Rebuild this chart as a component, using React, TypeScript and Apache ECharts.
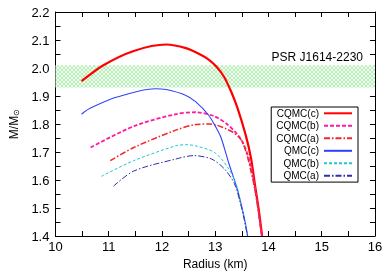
import React, { useEffect, useRef } from "react";
import * as echarts from "echarts";

const seriesNames = ["CQMC(c)", "CQMC(b)", "CQMC(a)", "QMC(c)", "QMC(b)", "QMC(a)"];

const cqmcC: [number, number][] = [
  [10.49, 1.953], [10.9, 2.01], [11.47, 2.061], [12.08, 2.084], [12.45, 2.071],
  [12.7, 2.05], [12.87, 2.031], [13.02, 2.005], [13.17, 1.967], [13.3, 1.915],
  [13.42, 1.856], [13.57, 1.762], [13.67, 1.68], [13.75, 1.578], [13.82, 1.49],
  [13.88, 1.4],
];
const cqmcB: [number, number][] = [
  [10.66, 1.716], [11.47, 1.792], [12.26, 1.835], [12.63, 1.842], [12.99, 1.827],
  [13.23, 1.798], [13.42, 1.762], [13.54, 1.725], [13.64, 1.67], [13.72, 1.6],
  [13.8, 1.505], [13.875, 1.4],
];
const cqmcA: [number, number][] = [
  [11.03, 1.669], [11.47, 1.716], [12.26, 1.778], [12.63, 1.798], [12.9, 1.8],
  [13.3, 1.774], [13.48, 1.745], [13.58, 1.7], [13.66, 1.64], [13.73, 1.58],
  [13.81, 1.49], [13.87, 1.4],
];
const qmcC: [number, number][] = [
  [10.49, 1.835], [10.65, 1.856], [11.17, 1.897], [11.87, 1.926], [12.08, 1.923],
  [12.44, 1.903], [12.63, 1.88], [12.87, 1.833], [13.02, 1.786], [13.11, 1.751],
  [13.26, 1.657], [13.42, 1.564], [13.54, 1.47], [13.61, 1.4],
];
const qmcB: [number, number][] = [
  [10.86, 1.613], [11.47, 1.669], [12.26, 1.722], [12.45, 1.726], [12.63, 1.722],
  [12.99, 1.698], [13.23, 1.646], [13.39, 1.587], [13.48, 1.515], [13.54, 1.465],
  [13.605, 1.4],
];
const qmcA: [number, number][] = [
  [11.09, 1.578], [11.47, 1.632], [12.26, 1.675], [12.6, 1.687], [12.93, 1.675],
  [13.17, 1.64], [13.36, 1.587], [13.48, 1.512], [13.54, 1.463], [13.605, 1.4],
];

const bandLow = 1.93;
const bandHigh = 2.01;
const bandLabel = "PSR J1614-2230";

const xMin = 10, xMax = 16, xInterval = 1;
const yMin = 1.4, yMax = 2.2, yInterval = 0.1;

const FONT = "Liberation Sans";

function makePattern(): string {
  const n = 4;
  const c = document.createElement("canvas");
  c.width = n;
  c.height = n;
  const ctx = c.getContext("2d");
  if (ctx) {
    ctx.fillStyle = "rgb(240,253,240)";
    ctx.fillRect(0, 0, n, n);
    ctx.strokeStyle = "rgba(140,228,140,0.8)";
    ctx.lineWidth = 0.7;
    ctx.beginPath();
    ctx.moveTo(0, 0); ctx.lineTo(n, n);
    ctx.moveTo(n, 0); ctx.lineTo(0, n);
    ctx.stroke();
  }
  return c.toDataURL();
}

export default function App() {
  const ref = useRef<HTMLDivElement>(null);
  useEffect(() => {
    if (!ref.current) return;
    const chart = echarts.init(ref.current, undefined, { renderer: "svg" });
    const pattern = makePattern();
    const tick = { show: true, inside: true, length: 5, lineStyle: { color: "#000" } };
    const minor = { show: true, splitNumber: 2, length: 5, lineStyle: { color: "#000" } };
    const axisLine = { show: true, lineStyle: { color: "#000", width: 1 } };
    const lbl = { color: "#000", fontSize: 13, fontFamily: FONT };
    const mk = (name: string, data: [number, number][], color: string, width: number, type: any) => ({
      name,
      type: "line",
      data,
      smooth: 0.3,
      symbol: "none",
      xAxisIndex: 0,
      yAxisIndex: 0,
      lineStyle: { color, width, type },
      itemStyle: { color },
      z: 3,
    });
    const s0: any = mk(seriesNames[0], cqmcC, "#ff0000", 2.2, "solid");
    s0.markArea = {
      silent: true,
      itemStyle: { color: { image: pattern, repeat: "repeat" }, opacity: 1 },
      label: {
        show: true,
        formatter: bandLabel,
        position: ["100%", 0],
        align: "right",
        verticalAlign: "bottom",
        offset: [-12, -2],
        color: "#000",
        fontSize: 12,
        fontFamily: FONT,
      },
      data: [[{ yAxis: bandLow }, { yAxis: bandHigh }]],
    };
    chart.setOption({
      animation: false,
      textStyle: { fontFamily: FONT },
      grid: { left: 46, right: 17, top: 12, bottom: 35 },
      legend: {
        data: seriesNames,
        orient: "vertical",
        align: "right",
        right: 34,
        top: 107,
        itemWidth: 28,
        itemHeight: 10,
        itemGap: 2.5,
        padding: [1.3, 5, 1.3, 5],
        borderColor: "#000",
        borderWidth: 1,
        backgroundColor: "#fff",
        itemStyle: { opacity: 0 },
        textStyle: { fontSize: 10, color: "#000", fontFamily: FONT, lineHeight: 10 },
      },
      xAxis: [
        {
          type: "value", min: xMin, max: xMax, interval: xInterval, position: "bottom",
          name: "Radius (km)", nameLocation: "middle", nameGap: 22,
          nameTextStyle: { color: "#000", fontSize: 12, fontFamily: FONT },
          axisLine, axisTick: tick, minorTick: minor, splitLine: { show: false },
          axisLabel: { ...lbl, margin: 4 },
        },
        {
          type: "value", min: xMin, max: xMax, interval: xInterval, position: "top",
          axisLine, axisTick: tick, minorTick: minor, splitLine: { show: false },
          axisLabel: { show: false },
        },
      ],
      yAxis: [
        {
          type: "value", min: yMin, max: yMax, interval: yInterval, position: "left",
          name: "M/M{s|⊙}", nameLocation: "middle", nameGap: 29, nameRotate: 90,
          nameTextStyle: {
            color: "#000", fontSize: 12, fontFamily: FONT,
            rich: { s: { fontSize: 8, color: "#000", fontFamily: FONT, padding: [5, 0, 0, 0] } },
          },
          axisLine, axisTick: tick, minorTick: minor, splitLine: { show: false },
          axisLabel: { ...lbl, margin: 6, formatter: (v: number) => v.toFixed(1) },
        },
        {
          type: "value", min: yMin, max: yMax, interval: yInterval, position: "right",
          axisLine, axisTick: tick, minorTick: minor, splitLine: { show: false },
          axisLabel: { show: false },
        },
      ],
      series: [
        s0,
        mk(seriesNames[1], cqmcB, "#ff1aa0", 1.8, [4, 2]),
        mk(seriesNames[2], cqmcA, "#f02828", 1.5, [6, 2, 1.5, 2]),
        mk(seriesNames[3], qmcC, "#3040ff", 1.1, "solid"),
        mk(seriesNames[4], qmcB, "#20c8d0", 1, [3, 2]),
        mk(seriesNames[5], qmcA, "#3030a8", 1, [6, 2, 1.5, 2]),
      ],
    });
    return () => chart.dispose();
  }, []);
  return (
    <div
      ref={ref}
      style={{ position: "fixed", left: 0, top: 0, width: 392, height: 275 }}
    />
  );
}
